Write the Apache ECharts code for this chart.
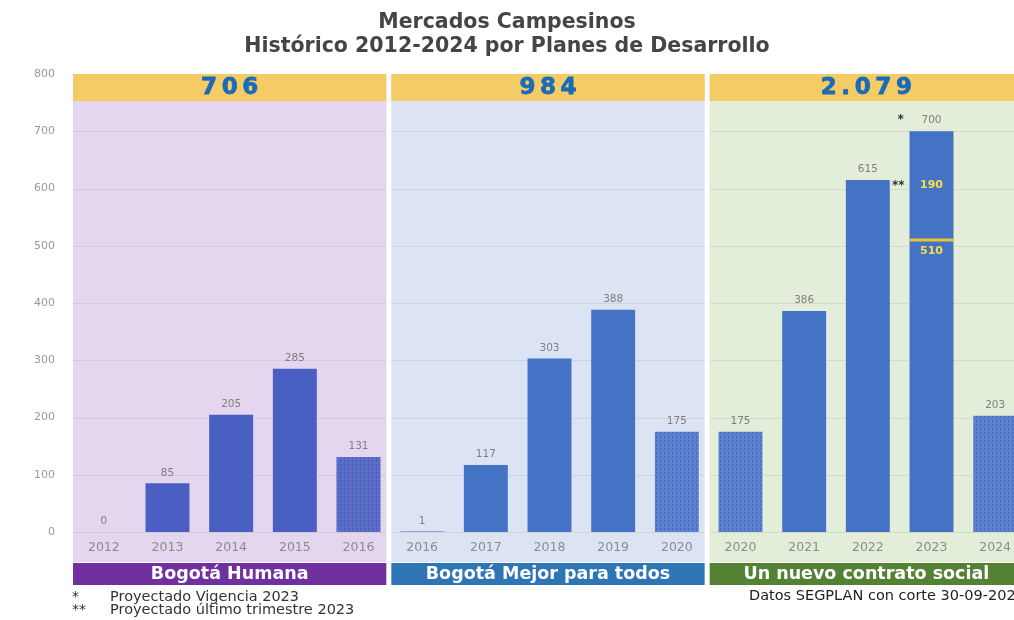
<!DOCTYPE html>
<html>
<head>
<meta charset="utf-8">
<script src="https://cdn.jsdelivr.net/npm/echarts@6/dist/echarts.min.js"></script>
<style>
  html, body { margin: 0; padding: 0; background: #ffffff; }
  #chart { width: 1014px; height: 620px; }
</style>
</head>
<body>
<div id="chart"></div>
<script>
// ---- Data ----
const categories = ['2012','2013','2014','2015','2016','2016','2017','2018','2019','2020','2020','2021','2022','2023','2024'];
const valores = [0, 85, 205, 285, 131, 1, 117, 303, 388, 175, 175, 386, 615, 700, 203];
const proyectadoIdx = [4, 9, 10, 14];           // bars drawn with pattern
const idx2023 = 13;
const ejecutado2023 = 510;
const proyectado2023 = 190;
const panelNames = ['Bogotá Humana', 'Bogotá Mejor para todos', 'Un nuevo contrato social'];
const panelTotals = ['706', '984', '2.079'];
const panelStart = [0, 5, 10];
const panelEnd = [4, 9, 14];
const yTicks = [0, 100, 200, 300, 400, 500, 600, 700, 800];

// ---- Styles ----
const panelBg = ['#e3d6ee', '#dce4f3', '#e2eed9'];
const panelBand = ['#7030a0', '#2e75b6', '#548235'];
const headerBg = '#f4cb64';
const solidColors = ['#4a5fc2', '#4472c4', '#4472c4'];
const hatchColors = ['#5a6ec8', '#5a80cf', '#5a80cf'];

function panelOf(i) {
  for (let p = 0; p < panelStart.length; p++) if (i >= panelStart[p] && i <= panelEnd[p]) return p;
  return 0;
}
function spaced(s) { return s.split('').join('\u2009'); }

const labelBase = { show: true, position: 'top', distance: 5, color: '#808080', fontSize: 10.5, fontFamily: 'DejaVu Sans' };

const baseData = valores.map((v, i) => {
  const p = panelOf(i);
  const hatched = proyectadoIdx.indexOf(i) >= 0;
  const style = { color: hatched ? hatchColors[p] : solidColors[p] };
  if (hatched) {
    style.decal = { symbol: 'rect', symbolSize: 1, dashArrayX: [1, 3], dashArrayY: [2, 2], color: 'rgba(30,50,140,0.35)' };
  }
  const item = { value: i === idx2023 ? ejecutado2023 : v, itemStyle: style };
  if (i === idx2023) {
    item.label = { show: true, position: 'insideTop', distance: 6, color: '#f3e04a', fontWeight: 'bold', fontSize: 11, fontFamily: 'DejaVu Sans' };
  }
  return item;
});
const topData = valores.map((v, i) => i === idx2023 ? proyectado2023 : null);
const totalData = valores.map((v, i) => i === idx2023 ? 0 : null);

const chart = echarts.init(document.getElementById('chart'), null, { renderer: 'canvas' });

const option = {
  animation: false,
  backgroundColor: '#ffffff',
  title: {
    text: 'Mercados Campesinos\nHistórico 2012-2024 por Planes de Desarrollo',
    left: 'center',
    top: 6,
    textStyle: { fontFamily: 'DejaVu Sans', fontWeight: 'bold', fontSize: 20.5, color: '#454545', lineHeight: 24 }
  },
  grid: { left: 72, top: 74, width: 955, height: 458, containLabel: false, outerBoundsMode: 'none' },
  xAxis: {
    type: 'category',
    data: categories,
    axisLine: { show: false },
    axisTick: { show: false },
    axisLabel: { margin: 9, color: '#8c8c8c', fontSize: 12.5, fontFamily: 'DejaVu Sans', interval: 0 },
    z: 1
  },
  yAxis: {
    type: 'value',
    min: 0, max: 800, interval: 100,
    axisLine: { show: false },
    axisTick: { show: false },
    splitLine: { show: false },
    axisLabel: { margin: 17, color: '#999999', fontSize: 11, fontFamily: 'DejaVu Sans' }
  },
  graphic: [
    { type: 'text', left: 72, top: 590, style: { text: '*', fill: '#333', font: '14px DejaVu Sans' } },
    { type: 'text', left: 72, top: 603, style: { text: '**', fill: '#333', font: '14px DejaVu Sans' } },
    { type: 'text', left: 110, top: 590, style: { text: 'Proyectado Vigencia 2023', fill: '#333', font: '14.5px DejaVu Sans' } },
    { type: 'text', left: 110, top: 603, style: { text: 'Proyectado último trimestre 2023', fill: '#333', font: '14.5px DejaVu Sans' } },
    { type: 'text', left: 749, top: 589, style: { text: 'Datos SEGPLAN con corte 30-09-2023', fill: '#222', font: '14.5px DejaVu Sans' } }
  ],
  series: [
    {
      type: 'custom',
      name: 'panels',
      z: -1,
      silent: true,
      data: panelStart.map((s, i) => [s, panelEnd[i]]),
      renderItem: function (params, api) {
        const i = params.dataIndex;
        const bw = api.size([1, 0])[0];
        const s = api.value(0), e = api.value(1);
        const x0 = api.coord([s, 0])[0] - bw / 2 + 1;
        const x1 = api.coord([e, 0])[0] + bw / 2 - 4;
        const yTop = api.coord([s, yTicks[yTicks.length - 1]])[1];
        const yZero = api.coord([s, 0])[1];
        const w = x1 - x0;
        const children = [
          { type: 'rect', shape: { x: x0, y: yTop, width: w, height: yZero + 30 - yTop }, style: { fill: panelBg[i] } }
        ];
        yTicks.slice(0, -1).forEach(t => {
          const y = Math.round(api.coord([s, t])[1]) + 0.5;
          children.push({ type: 'line', shape: { x1: x0, y1: y, x2: x1, y2: y }, style: { stroke: 'rgba(0,0,0,0.07)', lineWidth: 1 } });
        });
        children.push({ type: 'rect', shape: { x: x0, y: yTop, width: w, height: 27 }, style: { fill: headerBg } });
        children.push({ type: 'text', style: { text: spaced(panelTotals[i]), x: x0 + w / 2, y: yTop + 14, align: 'center', verticalAlign: 'middle', fill: '#1b6cb8', font: 'bold 23px DejaVu Sans', stroke: '#1b6cb8', lineWidth: 0.8 } });
        children.push({ type: 'rect', shape: { x: x0, y: yZero + 31, width: w, height: 22 }, style: { fill: panelBand[i] } });
        children.push({ type: 'text', style: { text: panelNames[i], x: x0 + w / 2, y: yZero + 42.5, align: 'center', verticalAlign: 'middle', fill: '#ffffff', font: 'bold 17.5px DejaVu Sans' } });
        return { type: 'group', children: children };
      }
    },
    {
      type: 'bar',
      name: 'base',
      stack: 'total',
      barWidth: '69%',
      data: baseData,
      label: labelBase
    },
    {
      type: 'bar',
      name: 'proyectado',
      stack: 'total',
      barWidth: '69%',
      data: topData,
      itemStyle: { color: solidColors[2] },
      label: {
        show: true,
        position: 'inside',
        formatter: function (p) { return '{s|**}{v|' + p.value + '}{p|}'; },
        rich: {
          s: { width: 28, align: 'left', color: '#333', fontSize: 12, fontFamily: 'DejaVu Sans', fontWeight: 'bold' },
          v: { color: '#f3e04a', fontWeight: 'bold', fontSize: 11, fontFamily: 'DejaVu Sans' },
          p: { width: 28 }
        }
      }
    },
    {
      type: 'bar',
      name: 'total',
      stack: 'total',
      barWidth: '69%',
      data: totalData,
      itemStyle: { color: 'rgba(0,0,0,0)' },
      label: {
        show: true,
        position: 'top',
        distance: 5,
        formatter: function (p) { return '{s|*}{v|' + valores[p.dataIndex] + '}{p|}'; },
        rich: {
          s: { width: 24, align: 'left', color: '#333', fontSize: 12, fontFamily: 'DejaVu Sans', fontWeight: 'bold' },
          v: { color: '#808080', fontSize: 10.5, fontFamily: 'DejaVu Sans' },
          p: { width: 24 }
        }
      }
    },
    {
      type: 'custom',
      name: 'divisor',
      z: 5,
      silent: true,
      data: [[idx2023, ejecutado2023]],
      renderItem: function (params, api) {
        const p = api.coord([api.value(0), api.value(1)]);
        const w = api.size([1, 0])[0] * 0.69;
        return { type: 'line', shape: { x1: p[0] - w / 2, y1: p[1], x2: p[0] + w / 2, y2: p[1] }, style: { stroke: '#f0c232', lineWidth: 3 } };
      }
    }
  ]
};
chart.setOption(option);
</script>
</body>
</html>
